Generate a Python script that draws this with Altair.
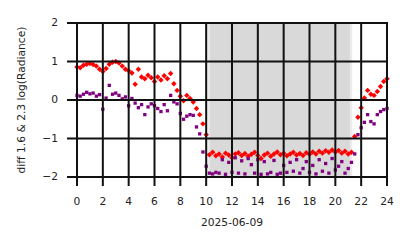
import altair as alt
import pandas as pd

# time grid (hours, 15-minute steps)
hours = [i * 0.25 for i in range(97)]

red_vals = [
    0.86, 0.84, 0.90, 0.93, 0.95, 0.92, 0.88, 0.80, 0.74, 0.82,
    0.93, 0.98, 1.00, 0.96, 0.88, 0.80, 0.76, 0.70, 0.41, 0.80,
    0.60, 0.55, 0.64, 0.58, 0.48, 0.60, 0.52, 0.63, 0.55, 0.69,
    0.42, 0.25, 0.10, -0.02, 0.12, 0.04, -0.05, -0.22, -0.38, -0.62,
    -0.90, -1.42, -1.36, -1.45, -1.40, -1.48, -1.38, -1.43, -1.50, -1.40,
    -1.37, -1.44, -1.39, -1.46, -1.41, -1.36, -1.44, -1.52, -1.43, -1.38,
    -1.46, -1.40, -1.35, -1.42, -1.38, -1.45, -1.40, -1.36, -1.43, -1.39,
    -1.44, -1.37, -1.41, -1.35, -1.40, -1.33, -1.38, -1.32, -1.36, -1.30,
    -1.35, -1.31, -1.38, -1.33, -1.40, -1.36, -0.95, -0.45, -0.20, 0.05,
    0.25, 0.15, 0.12, 0.22, 0.35, 0.48, 0.55,
]

purple_vals = [
    0.12, 0.10, 0.15, 0.20, 0.16, 0.18, 0.10, 0.14, -0.24, 0.05,
    0.38, 0.15, 0.18, 0.12, 0.03, 0.08, -0.15, 0.04, -0.08, -0.20,
    -0.12, -0.38, -0.18, -0.10, -0.15, -0.22, -0.30, -0.12, -0.28, 0.12,
    -0.05, -0.10, -0.35, -0.50, -0.42, -0.38, -0.40, -0.70, -0.88, -1.35,
    -1.72, -1.90, -1.92, -1.88, -1.90, -1.55, -1.93, -1.62, -1.88, -1.50,
    -1.90, -1.58, -1.92, -1.52, -1.68, -1.90, -1.55, -1.93, -1.60, -1.92,
    -1.88, -1.57, -1.93, -1.90, -1.70, -1.88, -1.62, -1.85, -1.55, -1.90,
    -1.78, -1.60, -1.88, -1.70, -1.92, -1.55, -1.85, -1.65, -1.90, -1.52,
    -1.82, -1.72, -1.60, -1.90, -1.78, -1.62, -1.40, -0.90, -0.72, -0.58,
    -0.38, -0.56, -0.62, -0.38, -0.30, -0.25, -0.22,
]

# night shading spans (hours)
span_start = [10.08, 10.29]
span_end = [21.30, 21.13]
span_opacity = [0.16, 0.17]

x_ticks = list(range(0, 25, 2))
x_labels = [str(v) for v in x_ticks]
y_ticks = [-2, -1, 0, 1, 2]
y_labels = ["\u22122", "\u22121", "0", "1", "2"]

x_title = ["2025-06-09"]
y_title = ["diff 1.6 & 2.3  log(Radiance)"]

W, H = 310, 154
FONT = "DejaVu Sans"
FS = 10.7
TXT = "#222222"
LINE = "#111111"

pts = pd.DataFrame({"h": hours, "red": red_vals, "purple": purple_vals})
spans = pd.DataFrame({"s": span_start, "e": span_end, "o": span_opacity})
xt = pd.DataFrame({"t": x_ticks, "lab": x_labels})
yt = pd.DataFrame({"t": y_ticks, "lab": y_labels})
xtitle = pd.DataFrame({"lab": x_title})
ytitle = pd.DataFrame({"lab": y_title})

xscale = alt.Scale(domain=[0, 24], nice=False, zero=False)
yscale = alt.Scale(domain=[-2, 2], nice=False, zero=False)

base = alt.Chart(pts)

red = base.mark_point(shape="diamond", filled=True, size=30, opacity=1, color="#ff0000").encode(
    x=alt.X("h:Q", scale=xscale, axis=None),
    y=alt.Y("red:Q", scale=yscale, axis=None),
)
purple = base.mark_point(shape="square", filled=True, size=11, opacity=1, color="#800080").encode(
    x=alt.X("h:Q", scale=xscale, axis=None),
    y=alt.Y("purple:Q", scale=yscale, axis=None),
)
band = alt.Chart(spans).mark_rect(color="#808080").encode(
    x=alt.X("s:Q", scale=xscale, axis=None),
    x2="e:Q",
    y=alt.value(0),
    y2=alt.value(H),
    opacity=alt.Opacity("o:Q", scale=None, legend=None),
)
vgrid = alt.Chart(xt).mark_rule(strokeWidth=2).encode(
    x=alt.X("t:Q", scale=xscale, axis=None),
    y=alt.value(0),
    y2=alt.value(H + 9),
    color=alt.value(LINE),
)
hgrid = alt.Chart(yt).mark_rule(strokeWidth=2).encode(
    y=alt.Y("t:Q", scale=yscale, axis=None),
    x=alt.value(-10),
    x2=alt.value(W + 1),
    color=alt.value(LINE),
)
xlab = alt.Chart(xt).mark_text(
    font=FONT, fontSize=FS, color=TXT, align="center", baseline="middle"
).encode(
    x=alt.X("t:Q", scale=xscale, axis=None),
    y=alt.value(H + 25),
    text="lab:N",
)
ylab = alt.Chart(yt).mark_text(
    font=FONT, fontSize=FS, color=TXT, align="right", baseline="middle"
).encode(
    y=alt.Y("t:Q", scale=yscale, axis=None),
    x=alt.value(-19),
    text="lab:N",
)
xtit = alt.Chart(xtitle).mark_text(
    font=FONT, fontSize=FS, color=TXT, align="center", baseline="middle"
).encode(
    x=alt.value(W / 2),
    y=alt.value(H + 46),
    text="lab:N",
)
ytit = alt.Chart(ytitle).mark_text(
    font=FONT, fontSize=FS, color=TXT, align="center", baseline="middle", angle=270
).encode(
    x=alt.value(-55),
    y=alt.value(H / 2),
    text="lab:N",
)

chart = (
    alt.layer(band, red, purple, vgrid, hgrid, xlab, ylab, xtit, ytit)
    .properties(
        width=W, height=H,
        autosize=alt.AutoSizeParams(type="none"),
        padding={"left": 77, "top": 23, "right": 27, "bottom": 71},
    )
    .configure_view(stroke=None)
)

chart.save("out.html", embed_options={"renderer": "svg", "actions": False})
